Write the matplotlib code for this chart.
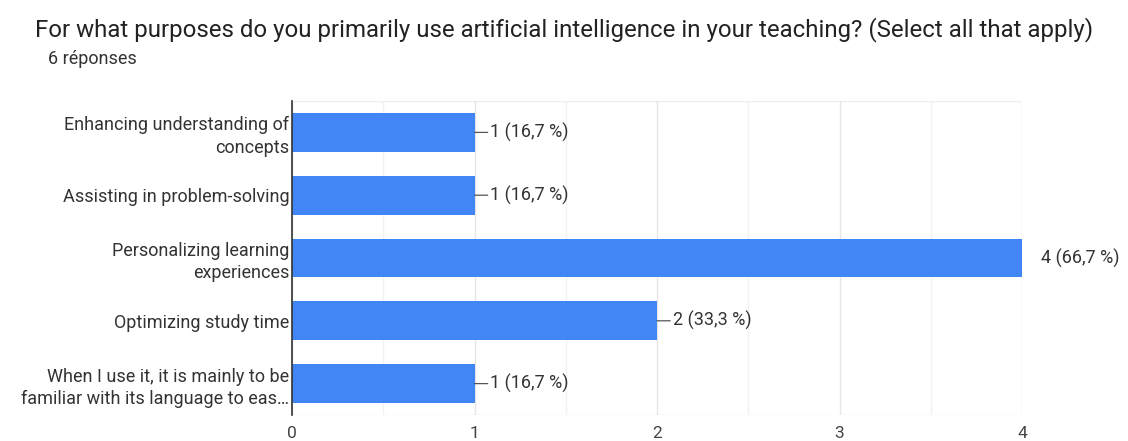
import numpy as np
import matplotlib.pyplot as plt

plt.rcParams['font.family'] = ['Roboto', 'DejaVu Sans']

categories = [
    "Enhancing understanding of\nconcepts",
    "Assisting in problem-solving",
    "Personalizing learning\nexperiences",
    "Optimizing study time",
    "When I use it, it is mainly to be\nfamiliar with its language to eas\u2026",
]
counts = [1, 1, 4, 2, 1]
percents = ["16,7", "16,7", "66,7", "33,3", "16,7"]
total = 6

fig = plt.figure(figsize=(11.28, 4.41), dpi=100)
ax = fig.add_axes([292 / 1128, 1 - 415 / 441, (1022 - 292) / 1128, (415 - 101) / 441])

y = np.arange(len(categories))
ax.barh(y, counts, height=0.62, color='#4285f4', zorder=3)
ax.set_ylim(len(categories) - 0.5, -0.5)
ax.set_xlim(0, 4)

ax.set_xticks([0, 1, 2, 3, 4])
ax.set_xticks([0.5, 1.5, 2.5, 3.5], minor=True)
ax.grid(axis='x', which='major', color='#e6e6e6', lw=1, zorder=0)
ax.grid(axis='x', which='minor', color='#f2f2f2', lw=1, zorder=0)
ax.set_yticks(y)
ax.set_yticklabels(categories, fontsize=13, color='#333333', linespacing=1.3)
ax.tick_params(axis='y', length=0, pad=2)
ax.tick_params(axis='x', which='both', length=0, pad=8, labelsize=12.5, labelcolor='#444444')

for s in ['top', 'right', 'bottom']:
    ax.spines[s].set_visible(False)
ax.spines['left'].set_color('#333333')
ax.spines['left'].set_linewidth(1.2)
ax.spines['left'].set_zorder(4)
ax.axhline(-0.5, color='#eeeeee', lw=1, zorder=1)
ax.axhline(len(categories) - 0.5, color='#eeeeee', lw=1, zorder=1)

for i, (c, p) in enumerate(zip(counts, percents)):
    label = f"{c} ({p} %)"
    if c >= 4:
        ax.annotate(label, (c, i), xytext=(14, 0), textcoords='offset points',
                    va='center', ha='left', fontsize=13, color='#333333',
                    annotation_clip=False)
    else:
        ax.annotate(label, (c, i), xytext=(11.5, 0), textcoords='offset points',
                    va='center', ha='left', fontsize=13, color='#333333',
                    arrowprops=dict(arrowstyle='-', color='#555555', lw=0.9,
                                    shrinkA=0, shrinkB=0))

fig.text(35 / 1128, 1 - 30 / 441, "For what purposes do you primarily use artificial intelligence in your teaching? (Select all that apply)",
         fontsize=17.3, color='#222222', va='center', ha='left')
fig.text(48 / 1128, 1 - 59 / 441, f"{total} réponses", fontsize=13, color='#333333', va='center', ha='left')

fig.savefig('out.png', dpi=100, facecolor='white')
